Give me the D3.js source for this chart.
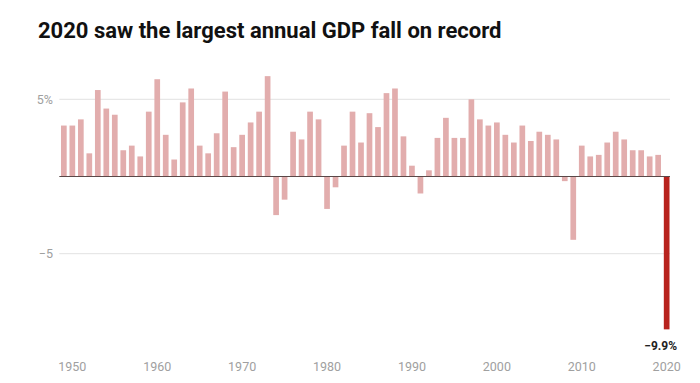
<!DOCTYPE html>
<html>
<head>
<meta charset="utf-8">
<script src="https://cdn.jsdelivr.net/npm/d3@7"></script>
<style>
  body { margin: 0; background: #fff; }
  svg { display: block; font-family: Roboto, "Noto Sans", sans-serif; }
</style>
</head>
<body>
<svg id="chart" width="700" height="383"></svg>
<script>
// annual GDP growth, %
const years = d3.range(1949, 2021);
const growth = [
  3.3, 3.3, 3.7, 1.5, 5.6, 4.4, 4.0, 1.7, 2.0, 1.3,
  4.2, 6.3, 2.7, 1.1, 4.8, 5.7, 2.0, 1.5, 2.8, 5.5,
  1.9, 2.7, 3.5, 4.2, 6.5, -2.5, -1.5, 2.9, 2.4, 4.2,
  3.7, -2.1, -0.7, 2.0, 4.2, 2.2, 4.1, 3.2, 5.4, 5.7,
  2.6, 0.7, -1.1, 0.4, 2.5, 3.8, 2.5, 2.5, 5.0, 3.7,
  3.3, 3.5, 2.7, 2.2, 3.3, 2.3, 2.9, 2.7, 2.4, -0.3,
  -4.1, 2.0, 1.3, 1.4, 2.2, 2.9, 2.4, 1.7, 1.7, 1.3,
  1.4, -9.9
];
const yTicks = [5, -5];
const xTicks = [1950, 1960, 1970, 1980, 1990, 2000, 2010, 2020];
const highlightYear = 2020;

const svg = d3.select("#chart");

const x = d3.scaleBand()
  .domain(years)
  .range([59.6, 670.9])
  .paddingInner(0.33)
  .paddingOuter(0.165);

const y = d3.scaleLinear()
  .domain([-5, 5])
  .range([253.7, 99.3]);

// title
svg.append("text")
  .attr("x", 38)
  .attr("y", 38)
  .attr("font-size", 22)
  .attr("font-weight", "bold")
  .attr("fill", "#111")
  .text("2020 saw the largest annual GDP fall on record");

// grid lines
svg.selectAll("line.grid")
  .data(yTicks)
  .enter()
  .append("line")
  .attr("class", "grid")
  .attr("x1", 59.3)
  .attr("x2", 670)
  .attr("y1", d => y(d))
  .attr("y2", d => y(d))
  .attr("stroke", "#e2e2e2")
  .attr("stroke-width", 1);

svg.selectAll("text.ylab")
  .data(yTicks)
  .enter()
  .append("text")
  .attr("class", "ylab")
  .attr("x", 53)
  .attr("y", d => y(d) + 4.5)
  .attr("text-anchor", "end")
  .attr("font-size", 12.5)
  .attr("fill", "#a0a0a0")
  .text(d => d > 0 ? d + "%" : "\u2212" + Math.abs(d));

// bars
svg.selectAll("rect.bar")
  .data(years)
  .enter()
  .append("rect")
  .attr("class", "bar")
  .attr("x", d => x(d))
  .attr("width", x.bandwidth())
  .attr("y", (d, i) => y(Math.max(0, growth[i])))
  .attr("height", (d, i) => Math.abs(y(growth[i]) - y(0)))
  .attr("fill", d => d === highlightYear ? "#b8231e" : "#e2adad");

// zero line
svg.append("line")
  .attr("x1", 59.3)
  .attr("x2", 670)
  .attr("y1", y(0))
  .attr("y2", y(0))
  .attr("stroke", "#5a4848")
  .attr("stroke-width", 1);

// highlight label
const last = growth[growth.length - 1];
svg.append("text")
  .attr("x", 677)
  .attr("y", y(last) + 21)
  .attr("text-anchor", "end")
  .attr("font-size", 12)
  .attr("font-weight", "bold")
  .attr("fill", "#222")
  .text("\u2212" + Math.abs(last).toFixed(1) + "%");

// x axis labels
const xAxis = d3.axisBottom(x)
  .tickValues(xTicks)
  .tickSize(0)
  .tickPadding(0);

const gx = svg.append("g")
  .attr("transform", "translate(0, 362)")
  .call(xAxis);
gx.select(".domain").remove();
gx.selectAll("text")
  .attr("font-family", "Roboto, sans-serif")
  .attr("font-size", 12.5)
  .attr("fill", "#a0a0a0");
</script>
</body>
</html>
